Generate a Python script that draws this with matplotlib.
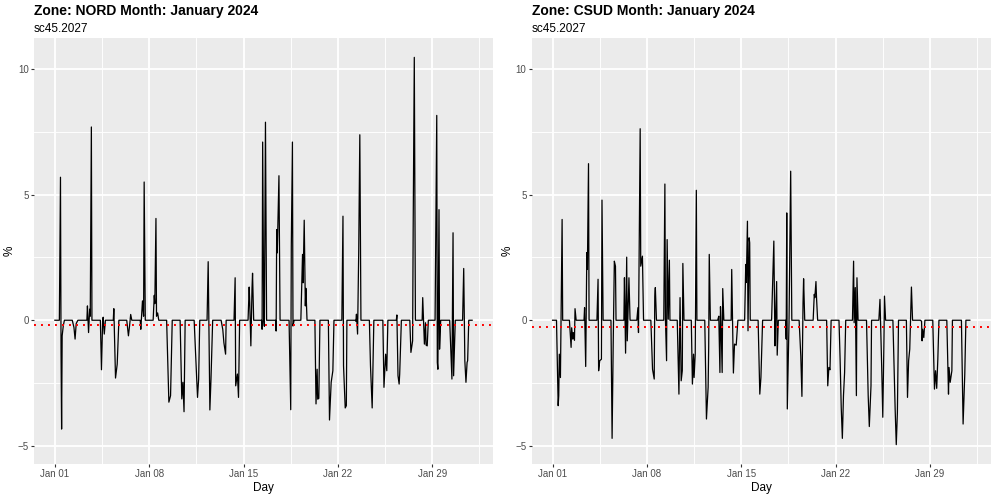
import numpy as np
import matplotlib
matplotlib.use("Agg")
import matplotlib.pyplot as plt
import matplotlib.dates as mdates

plt.rcParams['font.family'] = ['Liberation Sans', 'DejaVu Sans']

# hourly deviation (%), hours counted from 2024-01-01 00:00
nord_hours = [0, 8, 10, 11, 12, 13, 15, 17,
              31, 34, 36, 38, 41,
              57, 58, 60, 62, 63, 65, 66,
              81, 83, 85, 86, 88, 90,
              104, 105, 108, 111, 114,
              128, 131, 133, 135, 137,
              152, 153, 156, 158, 159, 161,
              175, 177, 178, 180, 181, 183, 185,
              199, 203, 206, 209,
              223, 226, 228, 230, 232,
              248, 251, 254, 256, 258,
              271, 273, 276, 278, 281,
              296, 299, 301, 304, 305,
              319, 321, 322, 325, 327, 329,
              344, 346, 347, 349, 351, 352, 354,
              368, 369, 370, 372, 373, 375, 377,
              393, 394, 395, 396, 399, 401,
              417, 420, 421, 423, 424, 426,
              438, 441, 442, 444, 446, 447, 449,
              463, 465, 467, 468, 470, 472,
              487, 489, 492, 495, 497,
              511, 513, 514, 517, 519, 520,
              535, 536, 537, 539, 541, 543, 545,
              560, 562, 564, 565, 568,
              584, 586, 589, 591, 593,
              608, 609, 611, 613, 614, 617,
              632, 634, 637, 638, 640, 642,
              654, 655, 658, 660, 661, 663, 665,
              677, 680, 681, 682, 684, 685, 687,
              703, 707, 709, 710, 712, 713,
              726, 728, 730, 732, 734, 735, 737,
              743]
nord_pct = [0, 0, 5.69, -1.28, -4.33, -0.62, -0.22, 0,
            0, -0.29, -0.75, -0.13, 0,
            0, 0.57, -0.49, 0.44, 0.16, 7.69, 0,
            0, -1.97, -0.1, 0.12, -0.55, 0,
            0, 0.46, -2.3, -1.75, 0,
            0, -0.62, -0.22, 0.23, 0,
            0, -0.36, 0.77, 0.16, 5.5, 0,
            0, 0.99, 0.66, 4.05, 0.16, 0.29, 0,
            0, -3.26, -3.0, 0,
            0, -3.13, -2.47, -3.64, 0,
            0, -1.55, -3.07, -2.34, 0,
            0, 2.33, -3.57, -2.34, 0,
            0, -0.37, -0.9, -1.35, 0,
            0, 1.69, -2.61, -2.14, -3.07, 0,
            0, 1.32, 0.7, -1.02, 1.23, 1.87, 0,
            0, -0.36, 7.09, 0, -0.24, 7.88, 0,
            0, -0.43, 3.61, 2.68, 5.75, 0,
            0, -3.56, 2.95, 7.09, -0.23, 0,
            0, 2.62, 1.49, 3.98, 0.57, 1.27, 0,
            0, -3.33, -1.95, -3.14, -3.11, 0,
            0, -3.97, -2.47, -2.01, 0,
            0, 4.14, -1.81, -3.49, -3.4, 0,
            0, -0.04, 0.24, -0.55, 2.66, 7.38, 0,
            0, -1.81, -2.94, -3.49, 0,
            0, -2.67, -1.35, -2.01, 0,
            0, 0.21, -2.21, -2.54, -2.14, 0,
            0, -1.28, -0.82, 3.61, 10.46, 0,
            0, 0.9, -0.95, -0.1, -0.99, -1.02, 0,
            0, 8.15, -1.68, -1.95, 4.4, -1.15, 0,
            0, -2.34, 3.48, -2.21, -0.75, 0,
            0, 2.06, -1.61, -2.47, -1.68, -1.61, 0,
            0]

csud_hours = [0, 7, 10, 11, 12, 14, 17, 18,
              30, 33, 34, 36, 37, 39, 40, 42,
              56, 57, 59, 61, 62, 64, 65,
              79, 81, 82, 84, 87, 88, 90,
              104, 106, 108, 110, 112, 113,
              127, 128, 130, 132, 133, 136, 138,
              150, 152, 153, 156, 157, 160, 162,
              175, 178, 181, 182, 183, 185,
              198, 200, 201, 203, 204, 206, 208, 209,
              222, 225, 227, 229, 231, 232, 234,
              247, 249, 251, 252, 254, 256, 257,
              271, 274, 277, 278, 279, 281,
              294, 296, 298, 299, 300, 302, 303, 305,
              318, 319, 322, 324, 327, 330,
              342, 344, 345, 347, 348, 350, 351, 352,
              366, 369, 371, 374,
              390, 394, 396, 397, 399, 400, 402,
              415, 416, 417, 418, 421, 424, 426,
              439, 442, 444, 446, 447, 449,
              464, 466, 467, 469, 470, 472,
              488, 490, 492, 494, 496,
              510, 512, 514, 516, 518, 520, 522,
              534, 536, 537, 539, 541, 542, 544,
              559, 562, 564, 567, 568,
              581, 583, 586, 588, 590, 591, 593,
              606, 609, 610, 612, 614, 616,
              630, 632, 634, 636, 639, 641,
              655, 657, 658, 659, 661, 663,
              677, 680, 682, 684, 686, 688,
              702, 705, 706, 708, 711, 712,
              728, 731, 734, 736,
              743]
csud_pct = [0, 0, -3.4, -3.0, -1.35, -2.28, 4.01, 0,
            0, -1.08, -0.3, -0.75, -0.49, -0.8, 0.46, 0,
            0, 0.5, -1.84, 2.69, 2.02, 6.23, 0,
            0, 1.63, -2.01, -1.61, -1.55, 4.78, 0,
            0, -4.7, -0.9, 2.35, 2.15, 0,
            0, 1.69, -1.31, 2.51, -0.82, 1.69, 0,
            0, 0.5, -0.49, 7.62, 2.15, 2.55, 0,
            0, -1.95, -2.34, 0.96, 1.3, 0,
            0, 5.42, 0.04, -1.61, 3.21, 0.04, 2.39, 0,
            0, -2.94, 0.9, -2.41, -2.01, 2.26, 0,
            0, -2.54, -1.35, -2.28, -1.35, 5.17, 0,
            0, -3.93, -2.67, -1.05, 2.62, 0,
            0, 0.16, -2.08, 0.54, -0.09, -2.08, 1.26, 0,
            0, 2.02, -2.1, -0.95, -0.99, 0,
            0, 2.22, 1.5, 3.94, -0.42, 3.28, 3.08, 0,
            0, -2.94, -2.28, 0,
            0, 3.15, -1.02, -0.1, 1.54, -1.39, 0,
            0, -0.75, 4.27, -3.53, -0.1, 5.93, 0,
            0, -1.42, -3.03, 0.7, 1.65, 0,
            0, 1.03, 0.9, 1.54, 0.9, 0,
            0, -2.61, -1.88, -1.97, 0,
            0, -1.55, -3.47, -4.7, -3.0, -2.08, 0,
            0, 2.35, -0.1, 1.3, -3.0, 1.69, 0,
            0, -3.0, -4.23, -2.61, 0,
            0, 0.83, -1.81, -3.86, -0.89, 0.96, 0,
            0, -2.61, -3.53, -4.95, -3.67, 0,
            0, -3.07, -1.61, -1.15, 1.32, 0,
            0, -0.04, -0.82, -0.36, -0.69, 0,
            0, -2.74, -2.01, -2.71, -1.55, 0,
            0, -2.94, -1.88, -2.47, -2.01, 0,
            0, -4.13, -2.14, 0,
            0]

zones = ['NORD', 'CSUD']
mean_pct = [-0.20, -0.27]
scenario = 'sc45.2027'
month_name = 'January 2024'

start = np.datetime64('2024-01-01T00:00')
series = [(nord_hours, nord_pct), (csud_hours, csud_pct)]

# shared y scale with ggplot-like 5% expansion
all_v = np.concatenate([nord_pct, csud_pct])
lo, hi = all_v.min(), all_v.max()
pad = 0.05 * (hi - lo)

t0 = mdates.date2num(start)
span = max(nord_hours) / 24.0
major = [t0 + 7 * k for k in range(5)]
minor = [t0 + 3.5 + 7 * k for k in range(5)]

fig = plt.figure(figsize=(9.96, 4.98), dpi=100)
lefts = [34 / 996, 531.7 / 996]
w = 459 / 996
b = 34 / 498
h = 426 / 498

for i, zone in enumerate(zones):
    ax = fig.add_axes([lefts[i], b, w, h])
    ax.set_facecolor('#EBEBEB')
    for s in ax.spines.values():
        s.set_visible(False)

    hrs, vals = series[i]
    t = start + np.array(hrs) * np.timedelta64(1, 'h')
    ax.plot(t, vals, color='black', lw=0.9, zorder=3)
    ax.axhline(mean_pct[i], color='red', lw=1.4, linestyle=(0, (1, 2.6)), zorder=4)

    ax.set_xlim(t0 - 0.05 * span, t0 + 1.05 * span)
    ax.set_ylim(lo - pad, hi + pad)

    ax.set_xticks(major)
    ax.set_xticks(minor, minor=True)
    ax.xaxis.set_major_formatter(mdates.DateFormatter('%b %d'))
    ax.set_yticks([-5, 0, 5, 10])
    ax.set_yticks([-2.5, 2.5, 7.5], minor=True)

    ax.grid(which='major', color='white', lw=1.3, zorder=0)
    ax.grid(which='minor', color='white', lw=0.65, zorder=0)
    ax.set_axisbelow(True)
    ax.tick_params(which='major', length=2.2, width=0.8, color='#333333',
                   labelcolor='#4D4D4D', labelsize=7, pad=1.5)
    ax.tick_params(which='minor', length=0)

    ax.set_xlabel('Day', fontsize=8.5, labelpad=2)
    ax.set_ylabel('%', fontsize=8.5, labelpad=1.5)

    fig.text(lefts[i], 1 - 15.5 / 498, f'Zone: {zone} Month: {month_name}',
             fontsize=10, fontweight='bold', va='baseline', ha='left')
    fig.text(lefts[i], 1 - 31.5 / 498, scenario,
             fontsize=8.5, va='baseline', ha='left')

fig.savefig('out.png', dpi=100)
